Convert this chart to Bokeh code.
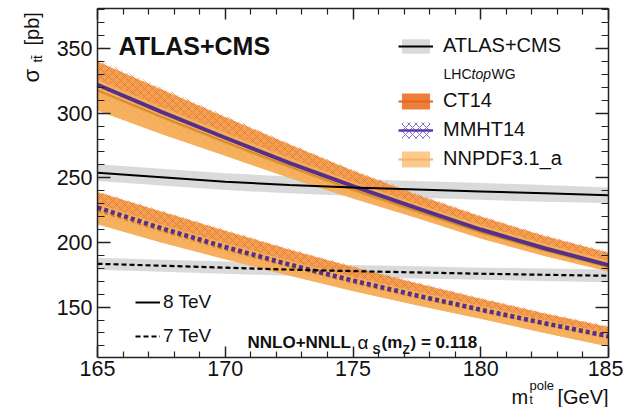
import numpy as np
from bokeh.plotting import figure
from bokeh.models import Legend, LegendItem, Label, LinearAxis, FixedTicker, CustomJSTickFormatter
from bokeh.embed import file_html
from bokeh.resources import INLINE

# ---------------- data ----------------
mt = [165, 167.5, 170, 172.5, 175, 177.5, 180, 182.5, 185]

# 8 TeV theory (NNLO+NNLL)
mmht8_c = [322, 301, 281, 261.5, 243.5, 226.5, 210, 195.5, 182.5]
mmht8_lo = [310, 290, 271, 253, 236, 220, 204.5, 190.5, 178.5]
mmht8_hi = [342, 320, 298.5, 277, 256.5, 238, 221, 206, 193]
ct14_8_c = [318, 297.5, 278, 259, 241, 224.5, 208, 194, 181]
ct14_8_lo = [302, 284, 267, 250, 234, 219, 203, 189.5, 177.5]
ct14_8_hi = [340, 318.5, 297, 276, 255.5, 237, 220, 205, 192]
nnpdf8_c = [317, 296.5, 277, 258, 240, 223.5, 207.5, 193.5, 180.5]
nnpdf8_lo = [302, 284, 267, 250, 234, 219, 203, 189.5, 177.5]
nnpdf8_hi = [326, 305, 285, 265.5, 247, 230, 213.5, 199, 186]

# 7 TeV theory
mmht7_c = [227, 211, 196.5, 183, 170.5, 159, 148, 137.5, 127.5]
mmht7_lo = [220, 205, 191, 178, 166, 155, 144.5, 134, 124]
mmht7_hi = [240, 225, 210, 195.5, 182, 169.5, 157.5, 146, 135.5]
ct14_7_c = [224.5, 209, 194.5, 181.5, 169, 157.5, 147, 136.5, 126.5]
ct14_7_lo = [214, 200, 187, 174.5, 162.5, 151.5, 141, 130, 119.5]
ct14_7_hi = [239, 224, 209, 194.5, 181, 168.5, 156.5, 145, 134.5]
nnpdf7_c = [224, 208.5, 194, 181, 168.5, 157, 146.5, 136, 126]
nnpdf7_lo = [214, 200, 187, 174.5, 162.5, 151.5, 141, 130, 119.5]
nnpdf7_hi = [230, 214, 199.5, 186, 173.5, 162, 151, 140, 130]

# ATLAS+CMS measurements (LHCtopWG)
meas8_c = [254, 250.5, 247, 244.5, 242.5, 241, 239.5, 238, 236.5]
meas8_lo = [247.5, 244, 240.5, 238, 236, 234.5, 233, 231.5, 230.5]
meas8_hi = [260.5, 257, 253.5, 251, 249, 247.5, 246, 244.5, 242.5]
meas7_c = [183.5, 182, 180.5, 179, 177.8, 176.8, 175.8, 175, 174.2]
meas7_lo = [178.8, 177.3, 175.8, 174.3, 173.1, 172.1, 171.1, 170.2, 169.3]
meas7_hi = [188.2, 186.7, 185.2, 183.7, 182.5, 181.5, 180.5, 179.8, 179.1]

x_ticks = [165, 170, 175, 180, 185]
y_ticks = [150, 200, 250, 300, 350]

# ---------------- styling ----------------
FONT = "Liberation Sans"
TXT = "#111111"
GRAY = "#d6d6d6"
CT14_FILL = "#f39a45"
NNPDF_FILL = "#f8b865"
PURPLE = "#54308a"
CT14_LINE = "#e0701e"
NNPDF_LINE = "#cfa02a"
HATCH_PLOT = "#cc5a3c"
HATCH_LEG = "#7c6fd6"

W, H = 623, 407
# pixel box of the data frame in the picture
FL, FR, FT, FB = 97, 608, 8, 357
X0, X1, Y0, Y1 = 165, 185, 111, 381


def dx(px):
    return X0 + (px - FL) * (X1 - X0) / (FR - FL)


def dy(py):
    return Y1 - (py - FT) * (Y1 - Y0) / (FB - FT)


p = figure(width=W, height=H, x_range=(dx(0), dx(W)), y_range=(dy(H), dy(0)),
           output_backend="svg", toolbar_location=None, min_border=0,
           x_axis_location=None, y_axis_location=None)
p.title.visible = False
p.grid.visible = False
p.outline_line_color = None
p.background_fill_color = "white"
p.border_fill_color = "white"

xminor = [v for v in np.arange(X0, X1 + 0.01, 1.0) if v not in x_ticks]
yminor = [v for v in np.arange(120, Y1, 10.0) if v not in y_ticks]


def make_axis(kind, side, loc):
    ax = LinearAxis(fixed_location=loc)
    if kind == "x":
        ax.ticker = FixedTicker(ticks=x_ticks, minor_ticks=xminor)
        ax.bounds = (X0, X1)
        ax.major_tick_in, ax.minor_tick_in = 11, 6
    else:
        ax.ticker = FixedTicker(ticks=y_ticks, minor_ticks=yminor)
        ax.bounds = (Y0, Y1)
        ax.major_tick_in, ax.minor_tick_in = 13, 7
    ax.major_tick_out = 0
    ax.minor_tick_out = 0
    ax.axis_line_color = "#222222"
    ax.axis_line_width = 1.5
    ax.major_tick_line_color = "#222222"
    ax.major_tick_line_width = 1.5
    ax.minor_tick_line_color = "#222222"
    ax.minor_tick_line_width = 1.2
    ax.major_label_text_font = FONT
    ax.major_label_text_color = TXT
    if side in ("below", "left"):
        ax.major_label_text_font_size = "21.5px"
        ax.major_label_standoff = 3 if side == "below" else 5
    else:
        ax.formatter = CustomJSTickFormatter(code="return ''")
        ax.major_label_text_font_size = "1px"
        ax.major_label_standoff = 0
    p.add_layout(ax, side)
    return ax


# ---------------- measurement bands ----------------
r_g8 = p.varea(x=mt, y1=meas8_lo, y2=meas8_hi, fill_color=GRAY, fill_alpha=0.9)
r_g7 = p.varea(x=mt, y1=meas7_lo, y2=meas7_hi, fill_color=GRAY, fill_alpha=0.9)

# ---------------- theory bands ----------------
for lo, hi, mlo, mhi, nlo, nhi in [
        (ct14_8_lo, ct14_8_hi, mmht8_lo, mmht8_hi, nnpdf8_lo, nnpdf8_hi),
        (ct14_7_lo, ct14_7_hi, mmht7_lo, mmht7_hi, nnpdf7_lo, nnpdf7_hi)]:
    p.varea(x=mt, y1=lo, y2=hi, fill_color=CT14_FILL, fill_alpha=0.95)
    p.varea(x=mt, y1=mlo, y2=mhi, fill_color=None, hatch_pattern="diagonal_cross",
            hatch_color=HATCH_PLOT, hatch_alpha=0.45, hatch_scale=8, hatch_weight=1)
    p.varea(x=mt, y1=nlo, y2=nhi, fill_color=NNPDF_FILL, fill_alpha=0.7)

# central lines
p.line(mt, nnpdf8_c, line_color=NNPDF_LINE, line_width=1.3)
p.line(mt, ct14_8_c, line_color=CT14_LINE, line_width=1.0)
p.line(mt, mmht8_c, line_color=PURPLE, line_width=4)
p.line(mt, nnpdf7_c, line_color=NNPDF_LINE, line_width=1.3, line_dash="4 3")
p.line(mt, ct14_7_c, line_color=CT14_LINE, line_width=1.0, line_dash="4 3")
p.line(mt, mmht7_c, line_color=PURPLE, line_width=4.5, line_dash="4 3")

r_m8 = p.line(mt, meas8_c, line_color="black", line_width=2)
r_m7 = p.line(mt, meas7_c, line_color="black", line_width=2.2, line_dash="5 3")

# axes (frame box, ticks inside on all four sides)
make_axis("x", "below", Y0)
make_axis("x", "above", Y1)
make_axis("y", "left", X0)
make_axis("y", "right", X1)

# ---------------- legend proxies (one NaN point, nothing drawn in the frame) ----------------
nan = [np.nan]
px_gray = p.varea(x=nan, y1=nan, y2=nan, fill_color="#dadada")
px_black = p.line(x=nan, y=nan, line_color="black", line_width=2)
px_ct = p.varea(x=nan, y1=nan, y2=nan, fill_color="#ee7e3a")
px_ctl = p.line(x=nan, y=nan, line_color="#e5661a", line_width=2)
px_mm = p.varea(x=nan, y1=nan, y2=nan, fill_color=None, hatch_pattern="diagonal_cross",
                hatch_color=HATCH_LEG, hatch_scale=7, hatch_weight=1)
px_mml = p.line(x=nan, y=nan, line_color="#5a3aa8", line_width=2.5)
px_nn = p.varea(x=nan, y1=nan, y2=nan, fill_color="#fdca8e")
px_nnl = p.line(x=nan, y=nan, line_color="#f5b466", line_width=2)


def legend(items, loc, glyph_w, glyph_h, standoff, spacing, fsize):
    lg = Legend(items=items, location=loc, orientation="vertical",
                glyph_width=glyph_w, glyph_height=glyph_h, label_standoff=standoff,
                spacing=spacing, padding=0, margin=0, label_height=20,
                label_text_font=FONT, label_text_font_size=fsize,
                label_text_color=TXT, border_line_alpha=0,
                background_fill_alpha=0)
    p.add_layout(lg)
    return lg


legend([LegendItem(label="ATLAS+CMS", renderers=[px_gray, px_black])],
       (398, H - 57), 35, 18, 10, 0, "20px")
legend([LegendItem(label="CT14", renderers=[px_ct, px_ctl]),
        LegendItem(label="MMHT14", renderers=[px_mm, px_mml]),
        LegendItem(label="NNPDF3.1_a", renderers=[px_nn, px_nnl])],
       (398, H - 170), 35, 20, 10, 6, "20px")
legend([LegendItem(label="8 TeV", renderers=[r_m8]),
        LegendItem(label="7 TeV", renderers=[r_m7])],
       (135, H - 347), 25, 20, 3, 12, "19px")


# ---------------- texts ----------------
def txt(s, px, py, size, style="normal", angle=0.0):
    p.add_layout(Label(x=dx(px), y=dy(py), text=s, text_font=FONT,
                       text_font_size=size, text_font_style=style,
                       text_color=TXT, text_align="left",
                       text_baseline="alphabetic", angle=angle))


txt("ATLAS+CMS", 118, 45, "25px", "bold")
txt("LHC", 443, 73, "14px")
txt("top", 471, 73, "14px", "italic")
txt("WG", 491, 73, "14px")

txt("NNLO+NNLL", 247, 342, "17px", "bold")
txt("\u03b1", 357, 342, "19px")
txt("S", 372, 349, "12px", "bold")
txt("(m", 381, 342, "17px", "bold")
txt("Z", 402, 349, "12px", "bold")
txt(") = 0.118", 410, 342, "17px", "bold")

# x-axis title
txt("m", 511, 396, "20px")
txt("pole", 529, 385, "13px")
txt("t", 529, 399, "12px")
txt("[GeV]", 557, 396, "20px")

# y-axis title (rotated)
R = np.pi / 2
txt("\u03c3", 31, 82, "22px", angle=R)
txt("tt\u0304", 37, 62, "13px", angle=R)
txt("[pb]", 31, 45, "20px", angle=R)

open("out.html", "w").write(file_html(p, INLINE))
